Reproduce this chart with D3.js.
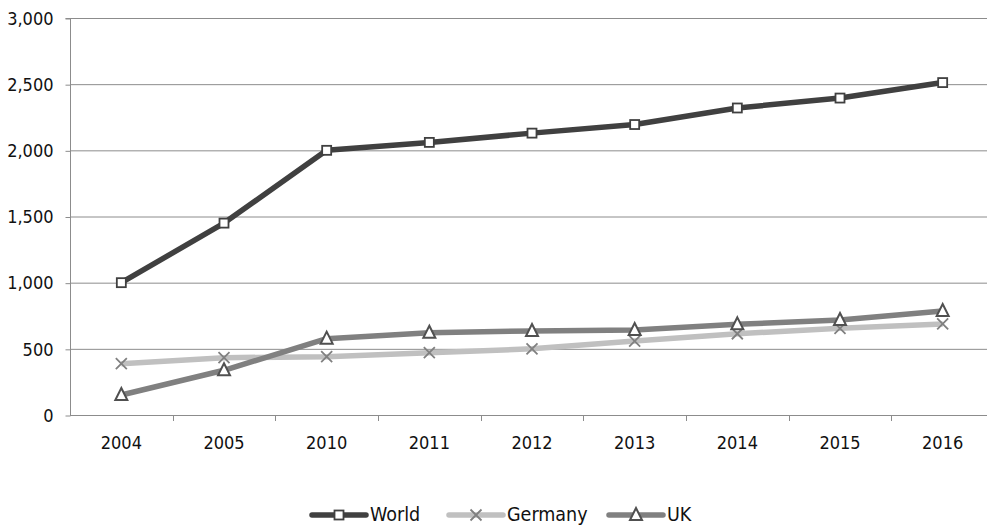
<!DOCTYPE html>
<html><head><meta charset="utf-8">
<script src="https://cdn.jsdelivr.net/npm/d3@7"></script>
<style>html,body{margin:0;padding:0;background:#fff;overflow:hidden}</style>
</head><body>
<svg id="chart" width="987" height="525"></svg>
<script>
const categories = ["2004","2005","2010","2011","2012","2013","2014","2015","2016"];
const world   = [1000, 1450, 2000, 2060, 2130, 2195, 2320, 2395, 2512];
const germany = [388, 433, 441, 471, 500, 559, 614, 655, 688];
const uk      = [151, 338, 577, 622, 635, 642, 685, 718, 786];
const yTicks  = [0, 500, 1000, 1500, 2000, 2500, 3000];
const seriesNames = ["World", "Germany", "UK"];

(function () {
const series = [
  {name: seriesNames[0], values: world,   color: "#404040", marker: "square",   mColor: "#404040"},
  {name: seriesNames[1], values: germany, color: "#c0c0c0", marker: "cross",    mColor: "#808080"},
  {name: seriesNames[2], values: uk,      color: "#808080", marker: "triangle", mColor: "#505050"}
];

const svg = d3.select("#chart");
const pLeft = 70, pRight = 994, pTop = 18, pBottom = 415;
const x = d3.scaleBand().domain(categories).range([pLeft, pRight]).padding(0);
const y = d3.scaleLinear().domain([0, 3000]).range([pBottom, pTop]);
const font = "'DejaVu Sans Condensed', 'Open Sans', sans-serif";

// gridlines
svg.append("g").selectAll("line").data(yTicks.filter(d => d > 0)).join("line")
  .attr("x1", pLeft).attr("x2", pRight)
  .attr("y1", d => y(d) + 0.5).attr("y2", d => y(d) + 0.5)
  .attr("stroke", "#8c8c8c").attr("stroke-width", 1);

// y axis
const yAxis = d3.axisLeft(y).tickValues(yTicks).tickSize(5).tickPadding(12)
  .tickFormat(d3.format(","));
const gy = svg.append("g").attr("transform", `translate(${pLeft + 0.5},0.5)`).call(yAxis);
gy.select(".domain").attr("stroke", "#8c8c8c").attr("d", `M-5,${y(3000)}H0V${y(0)}`);
gy.selectAll(".tick line").attr("stroke", "#8c8c8c");
gy.selectAll(".tick text").attr("font-family", font).attr("font-size", 18).attr("fill", "#111");

// x axis
const xAxis = d3.axisBottom(x).tickSize(0).tickPadding(21);
const gx = svg.append("g").attr("transform", `translate(0,${pBottom + 0.5})`).call(xAxis);
gx.select(".domain").attr("stroke", "#8c8c8c").attr("d", `M${pLeft},0H${pRight}`);
gx.selectAll(".tick text").attr("font-family", font).attr("font-size", 18).attr("fill", "#111");
svg.append("g").selectAll("line").data(categories.slice(1)).join("line")
  .attr("x1", d => Math.round(x(d)) + 0.5).attr("x2", d => Math.round(x(d)) + 0.5)
  .attr("y1", pBottom).attr("y2", pBottom + 6)
  .attr("stroke", "#8c8c8c");

function drawMarker(g, type, cx, cy, mColor) {
  if (type === "square") {
    g.append("rect").attr("x", cx - 4.5).attr("y", cy - 4.5).attr("width", 9).attr("height", 9)
      .attr("fill", "#fff").attr("stroke", mColor).attr("stroke-width", 1.8);
  } else if (type === "cross") {
    const s = 5.5;
    g.append("path").attr("d", `M${cx - s},${cy - s}L${cx + s},${cy + s}M${cx - s},${cy + s}L${cx + s},${cy - s}`)
      .attr("stroke", mColor).attr("stroke-width", 1.8).attr("fill", "none");
  } else {
    const s = 6;
    g.append("path").attr("d", `M${cx},${cy - s - 1}L${cx + s},${cy + s - 1}L${cx - s},${cy + s - 1}Z`)
      .attr("fill", "#fff").attr("stroke", mColor).attr("stroke-width", 2);
  }
}

const line = d3.line().x((d, i) => x(categories[i]) + x.bandwidth() / 2).y(d => y(d));
[series[1], series[2], series[0]].forEach(s => {
  svg.append("path").datum(s.values).attr("d", line)
    .attr("fill", "none").attr("stroke", s.color).attr("stroke-width", 5.5)
    .attr("stroke-linejoin", "round");
});
[series[1], series[2], series[0]].forEach(s => {
  const g = svg.append("g");
  s.values.forEach((v, i) => drawMarker(g, s.marker, x(categories[i]) + x.bandwidth() / 2, y(v), s.mColor));
});

// legend
const legendX = [310, 447, 607];
const ly = 515;
series.forEach((s, i) => {
  const g = svg.append("g");
  const x0 = legendX[i];
  g.append("line").attr("x1", x0 + 2).attr("x2", x0 + 56).attr("y1", ly).attr("y2", ly)
    .attr("stroke", s.color).attr("stroke-width", 5.5).attr("stroke-linecap", "round");
  drawMarker(g, s.marker, x0 + 29, ly, s.mColor);
  g.append("text").attr("x", x0 + 60).attr("y", 521).text(s.name)
    .attr("font-family", font).attr("font-size", 19.5).attr("fill", "#111");
});
})();
</script>
</body></html>
